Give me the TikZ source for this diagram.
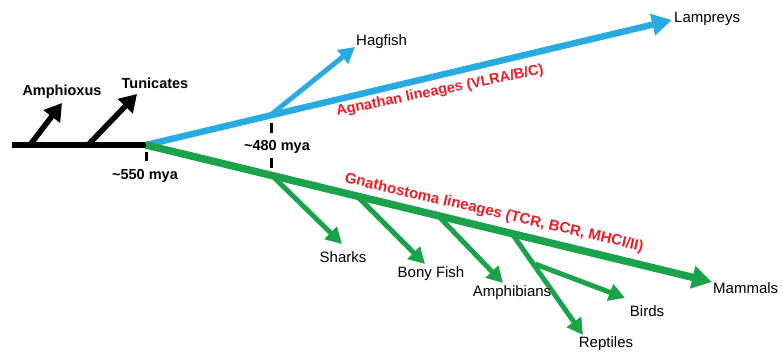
\documentclass[tikz,border=0pt]{standalone}
\usepackage{fontspec}
\setmainfont{Liberation Sans}
\usetikzlibrary{arrows.meta}
\definecolor{agblue}{RGB}{41,171,226}
\definecolor{gngreen}{RGB}{26,163,74}
\definecolor{linred}{RGB}{237,28,36}
\tikzset{
  lbl/.style={inner sep=0pt, font=\fontsize{15}{18}\selectfont},
  blbl/.style={inner sep=0pt, font=\fontsize{14.5}{17}\selectfont\bfseries},
  redlbl/.style={inner sep=0pt, text=linred, font=\fontsize{14.5}{17}\selectfont\bfseries},
  stem/.style={line width=6.5pt},
  blackbranch/.style={line width=5.5pt, -{Triangle[length=17pt,width=20pt]}},
  bluemain/.style={agblue, line width=6.5pt, -{Triangle[length=20pt,width=21pt]}},
  bluebranch/.style={agblue, line width=5pt, -{Triangle[length=16pt,width=17pt]}},
  greenmain/.style={gngreen, line width=7.5pt, -{Triangle[length=20pt,width=22pt]}},
  greenbranch/.style={gngreen, line width=5pt, -{Triangle[length=16pt,width=17pt]}},
  tick/.style={line width=3pt},
}
\begin{document}
\begin{tikzpicture}[x=1pt,y=-1pt]
\useasboundingbox (0,0) rectangle (783,356);

% base stem with the two outgroups
\coordinate (root) at (12,145);
\coordinate (n550) at (146,145);
\coordinate (amB) at (30,145);
\coordinate (amT) at (62,103);
\coordinate (tuB) at (88,145);
\coordinate (tuT) at (137,94);
\draw[stem] (root) -- (n550);
\draw[blackbranch] (amB) -- (amT);
\draw[blackbranch] (tuB) -- (tuT);
\node[blbl] (amph) at (62,92) {Amphioxus};
\node[blbl] (tuni) at (155,83) {Tunicates};

% jawless lineage
\coordinate (lamT) at (672,20);
\coordinate (n480a) at (270,115.5);
\coordinate (hagT) at (355,47);
\draw[bluemain] (n550) -- (lamT);
\draw[bluebranch] (n480a) -- (hagT);
\node[lbl, anchor=west] (lamp) at (674,19) {Lampreys};
\node[lbl, anchor=west] (hagf) at (356,42) {Hagfish};

% jawed lineage
\coordinate (mamT) at (712,282);
\coordinate (b1) at (272,175.5);
\coordinate (b2) at (357,196);
\coordinate (b3) at (438,215.7);
\coordinate (b4) at (512,233.6);
\coordinate (shaT) at (342,244);
\coordinate (bonT) at (425,264);
\coordinate (ampT) at (503,283);
\coordinate (repT) at (583,335);
\coordinate (b5) at (535,264);
\coordinate (birT) at (625,298);
\draw[greenmain] (n550) -- (mamT);
\draw[greenbranch] (b1) -- (shaT);
\draw[greenbranch] (b2) -- (bonT);
\draw[greenbranch] (b3) -- (ampT);
\draw[greenbranch] (b4) -- (repT);
\draw[greenbranch] (b5) -- (birT);
\node[lbl] (shar) at (343,257) {Sharks};
\node[lbl] (bony) at (431,274) {Bony Fish};
\node[lbl] (amphi) at (512,293) {Amphibians};
\node[lbl] (rept) at (606,344) {Reptiles};
\node[lbl] (bird) at (647,311) {Birds};
\node[lbl, anchor=west] (mamm) at (713,288) {Mammals};

% time marks
\coordinate (t550a) at (146,152);
\coordinate (t550b) at (146,161);
\draw[tick] (t550a) -- (t550b);
\node[blbl] (m550) at (145,176) {\char`\~550 mya};
\coordinate (t480a) at (271,123);
\coordinate (t480b) at (271,133);
\coordinate (t480c) at (271,158);
\coordinate (t480d) at (271,168);
\draw[tick] (t480a) -- (t480b);
\draw[tick] (t480c) -- (t480d);
\node[blbl] (m480) at (277,147) {\char`\~480 mya};

% lineage captions
\node[redlbl, rotate=11.5] (agn) at (440,91) {Agnathan lineages (VLRA/B/C)};
\node[redlbl, rotate=-13, font=\fontsize{15}{18}\selectfont\bfseries] (gna) at (494,213) {Gnathostoma lineages (TCR, BCR, MHCI/II)};
\end{tikzpicture}
\end{document}
